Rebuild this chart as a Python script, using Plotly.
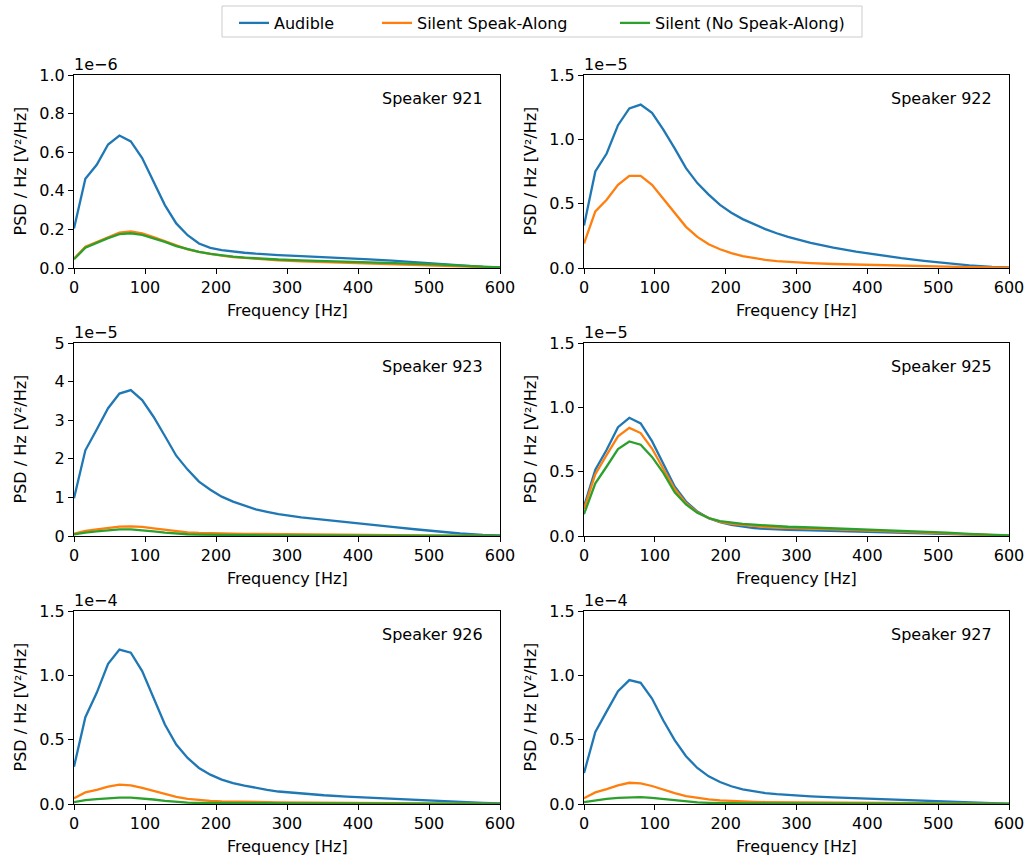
import plotly.graph_objects as go

# Frequency grid of the PSD estimates [Hz]
FREQ = [0, 16, 32, 48, 64, 80, 96, 112, 128, 144, 160, 176, 192, 208, 224, 240,
        256, 272, 288, 320, 352, 384, 416, 448, 480, 512, 544, 576, 608]

SPEAKERS = ["Speaker 921", "Speaker 922", "Speaker 923",
            "Speaker 925", "Speaker 926", "Speaker 927"]
EXPONENTS = [-6, -5, -5, -5, -4, -4]
Y_MAX = [1.0, 1.5, 5.0, 1.5, 1.5, 1.5]
Y_TICKS = [
    [0.0, 0.2, 0.4, 0.6, 0.8, 1.0],
    [0.0, 0.5, 1.0, 1.5],
    [0, 1, 2, 3, 4, 5],
    [0.0, 0.5, 1.0, 1.5],
    [0.0, 0.5, 1.0, 1.5],
    [0.0, 0.5, 1.0, 1.5],
]
Y_TICKFMT = [".1f", ".1f", "d", ".1f", ".1f", ".1f"]
X_TICKS = [0, 100, 200, 300, 400, 500, 600]

# PSD values in units of 10^EXPONENT V²/Hz
AUDIBLE = [
    [0.205, 0.462, 0.535, 0.64, 0.686, 0.656, 0.57, 0.448, 0.326, 0.231, 0.17, 0.127, 0.104, 0.093, 0.085, 0.079,
     0.074, 0.070, 0.067, 0.062, 0.057, 0.051, 0.045, 0.038, 0.030, 0.021, 0.013, 0.006, 0.002],
    [0.33, 0.75, 0.89, 1.11, 1.24, 1.27, 1.206, 1.075, 0.93, 0.776, 0.66, 0.57, 0.49, 0.43, 0.38, 0.338,
     0.302, 0.27, 0.242, 0.195, 0.158, 0.127, 0.10, 0.077, 0.056, 0.037, 0.021, 0.009, 0.003],
    [0.98, 2.22, 2.76, 3.31, 3.69, 3.78, 3.52, 3.09, 2.59, 2.08, 1.72, 1.41, 1.2, 1.02, 0.89, 0.78,
     0.69, 0.625, 0.565, 0.48, 0.415, 0.355, 0.29, 0.235, 0.175, 0.115, 0.065, 0.03, 0.01],
    [0.23, 0.515, 0.67, 0.846, 0.919, 0.875, 0.737, 0.555, 0.385, 0.268, 0.19, 0.138, 0.107, 0.086, 0.073, 0.062,
     0.055, 0.05, 0.047, 0.043, 0.039, 0.035, 0.031, 0.027, 0.022, 0.017, 0.011, 0.006, 0.002],
    [0.29, 0.675, 0.864, 1.09, 1.2, 1.176, 1.033, 0.825, 0.618, 0.462, 0.358, 0.28, 0.228, 0.19, 0.163, 0.143,
     0.125, 0.110, 0.097, 0.080, 0.068, 0.058, 0.049, 0.041, 0.033, 0.024, 0.015, 0.008, 0.003],
    [0.24, 0.56, 0.72, 0.877, 0.963, 0.942, 0.82, 0.649, 0.496, 0.371, 0.28, 0.215, 0.171, 0.138, 0.114, 0.097,
     0.085, 0.076, 0.069, 0.059, 0.051, 0.044, 0.038, 0.032, 0.026, 0.019, 0.012, 0.006, 0.002],
]
SPEAK_ALONG = [
    [0.049, 0.11, 0.135, 0.16, 0.183, 0.19, 0.18, 0.16, 0.138, 0.115, 0.097, 0.083, 0.072, 0.064, 0.057, 0.052,
     0.047, 0.043, 0.040, 0.035, 0.031, 0.027, 0.024, 0.020, 0.017, 0.013, 0.008, 0.004, 0.001],
    [0.19, 0.44, 0.53, 0.646, 0.716, 0.716, 0.646, 0.54, 0.425, 0.32, 0.242, 0.185, 0.146, 0.115, 0.092, 0.075,
     0.063, 0.054, 0.047, 0.038, 0.031, 0.026, 0.021, 0.017, 0.014, 0.01, 0.007, 0.004, 0.002],
    [0.06, 0.13, 0.17, 0.21, 0.245, 0.25, 0.235, 0.2, 0.16, 0.12, 0.095, 0.08, 0.07, 0.065, 0.06, 0.056,
     0.052, 0.048, 0.045, 0.04, 0.036, 0.032, 0.028, 0.024, 0.02, 0.015, 0.01, 0.005, 0.002],
    [0.21, 0.48, 0.63, 0.775, 0.84, 0.8, 0.68, 0.52, 0.365, 0.255, 0.185, 0.14, 0.11, 0.095, 0.085, 0.077,
     0.07, 0.065, 0.061, 0.056, 0.051, 0.046, 0.041, 0.035, 0.029, 0.021, 0.013, 0.007, 0.002],
    [0.045, 0.09, 0.11, 0.135, 0.15, 0.145, 0.125, 0.1, 0.075, 0.055, 0.04, 0.03, 0.025, 0.021, 0.018, 0.016,
     0.015, 0.014, 0.013, 0.012, 0.011, 0.01, 0.009, 0.008, 0.006, 0.005, 0.003, 0.002, 0.001],
    [0.045, 0.09, 0.115, 0.145, 0.165, 0.16, 0.14, 0.11, 0.085, 0.062, 0.047, 0.036, 0.028, 0.023, 0.02, 0.017,
     0.015, 0.014, 0.013, 0.012, 0.011, 0.01, 0.009, 0.008, 0.006, 0.005, 0.003, 0.002, 0.001],
]
# Speaker 922 has no silent (no speak-along) recording
SILENT = [
    [0.045, 0.105, 0.13, 0.155, 0.175, 0.18, 0.172, 0.155, 0.135, 0.113, 0.096, 0.083, 0.073, 0.065, 0.059, 0.054,
     0.050, 0.047, 0.044, 0.040, 0.037, 0.034, 0.031, 0.028, 0.024, 0.019, 0.012, 0.006, 0.002],
    None,
    [0.04, 0.09, 0.12, 0.15, 0.17, 0.17, 0.15, 0.12, 0.09, 0.06, 0.045, 0.037, 0.03, 0.026, 0.023, 0.021,
     0.019, 0.017, 0.016, 0.014, 0.012, 0.011, 0.009, 0.008, 0.007, 0.005, 0.004, 0.002, 0.001],
    [0.17, 0.41, 0.54, 0.675, 0.735, 0.71, 0.615, 0.49, 0.34, 0.245, 0.18, 0.14, 0.115, 0.102, 0.094, 0.088,
     0.082, 0.077, 0.072, 0.066, 0.06, 0.055, 0.049, 0.043, 0.035, 0.026, 0.017, 0.009, 0.003],
    [0.015, 0.03, 0.038, 0.045, 0.05, 0.05, 0.045, 0.035, 0.025, 0.015, 0.01, 0.008, 0.007, 0.006, 0.006, 0.005,
     0.005, 0.005, 0.004, 0.004, 0.004, 0.003, 0.003, 0.003, 0.002, 0.002, 0.001, 0.001, 0.0],
    [0.015, 0.03, 0.04, 0.048, 0.053, 0.053, 0.048, 0.038, 0.028, 0.018, 0.012, 0.009, 0.007, 0.006, 0.006, 0.005,
     0.005, 0.005, 0.004, 0.004, 0.004, 0.003, 0.003, 0.003, 0.002, 0.002, 0.001, 0.001, 0.0],
]

SERIES_NAMES = ["Audible", "Silent Speak-Along", "Silent (No Speak-Along)"]
COLORS = ["#1f77b4", "#ff7f0e", "#2ca02c"]
LEGEND_IDS = ["legend", "legend2", "legend3"]

W, H = 1031, 859
FONT = "DejaVu Sans"
FS = 16
TXT = dict(family=FONT, size=FS, color="black")
# panel pixel boxes: (left, right), (top, bottom)
COLS = [(74, 500), (584, 1009)]
ROWS = [(75, 268), (343, 536), (611, 804)]

fig = go.Figure()
annotations = []

for i, name in enumerate(SPEAKERS):
    r, c = divmod(i, 2)
    n = i + 1
    xa = "x" if n == 1 else f"x{n}"
    ya = "y" if n == 1 else f"y{n}"
    (l, rt), (t, b) = COLS[c], ROWS[r]
    xdom = [l / W, rt / W]
    ydom = [1 - b / H, 1 - t / H]

    for k, data in enumerate([AUDIBLE[i], SPEAK_ALONG[i], SILENT[i]]):
        if data is None:
            continue
        fig.add_trace(go.Scatter(
            x=FREQ, y=data, mode="lines", name=SERIES_NAMES[k],
            line=dict(color=COLORS[k], width=2.3),
            showlegend=(i == 0), legend=LEGEND_IDS[k],
            xaxis=xa, yaxis=ya,
        ))

    axis_common = dict(
        showline=True, linecolor="black", linewidth=1, mirror=True,
        ticks="outside", ticklen=5, tickwidth=1, tickcolor="black",
        showgrid=False, zeroline=False, automargin=False,
        tickfont=TXT,
    )
    fig.layout[xa.replace("x", "xaxis")] = dict(
        axis_common, domain=xdom, range=[0, 600],
        tickvals=X_TICKS, anchor=ya,
    )
    fig.layout[ya.replace("y", "yaxis")] = dict(
        axis_common, domain=ydom, range=[0, Y_MAX[i]],
        tickvals=Y_TICKS[i], tickformat=Y_TICKFMT[i], anchor=xa,
    )

    # speaker label
    annotations.append(dict(
        text=name, xref=f"{xa} domain", yref=f"{ya} domain",
        x=0.964, y=0.876, xanchor="right", yanchor="middle", showarrow=False,
        font=TXT,
    ))
    # scale offset text
    annotations.append(dict(
        text=f"1e\u2212{abs(EXPONENTS[i])}", xref=f"{xa} domain", yref=f"{ya} domain",
        x=0.0, y=1.0, xanchor="left", yanchor="bottom", xshift=-2, yshift=-1,
        showarrow=False, font=TXT,
    ))
    # axis titles
    annotations.append(dict(
        text="Frequency [Hz]", xref="paper", yref="paper",
        x=(l + rt) / 2 / W, y=1 - (b + 42) / H, xanchor="center", yanchor="middle",
        showarrow=False, font=TXT,
    ))
    annotations.append(dict(
        text="PSD / Hz [V²/Hz]", xref="paper", yref="paper",
        x=(l - 54) / W, y=1 - (t + b) / 2 / H, xanchor="center", yanchor="middle",
        textangle=-90, showarrow=False, font=TXT,
    ))

# one legend per series, framed together in a single box
legend_left = [234, 377, 615]
legend_common = dict(
    orientation="h", xanchor="left", y=1 - 6 / H, yanchor="top",
    bgcolor="rgba(0,0,0,0)", borderwidth=0, font=TXT, itemwidth=30,
)

fig.update_layout(
    width=W, height=H,
    margin=dict(l=0, r=0, t=0, b=0),
    paper_bgcolor="white", plot_bgcolor="white",
    font=TXT,
    annotations=annotations,
    legend=dict(legend_common, x=legend_left[0] / W),
    legend2=dict(legend_common, x=legend_left[1] / W),
    legend3=dict(legend_common, x=legend_left[2] / W),
    shapes=[dict(
        type="rect", xref="paper", yref="paper",
        x0=222 / W, x1=862 / W, y0=1 - 37 / H, y1=1 - 6 / H,
        line=dict(color="#cccccc", width=1), fillcolor="rgba(0,0,0,0)",
        layer="below",
    )],
)

fig.write_html("out.html")
